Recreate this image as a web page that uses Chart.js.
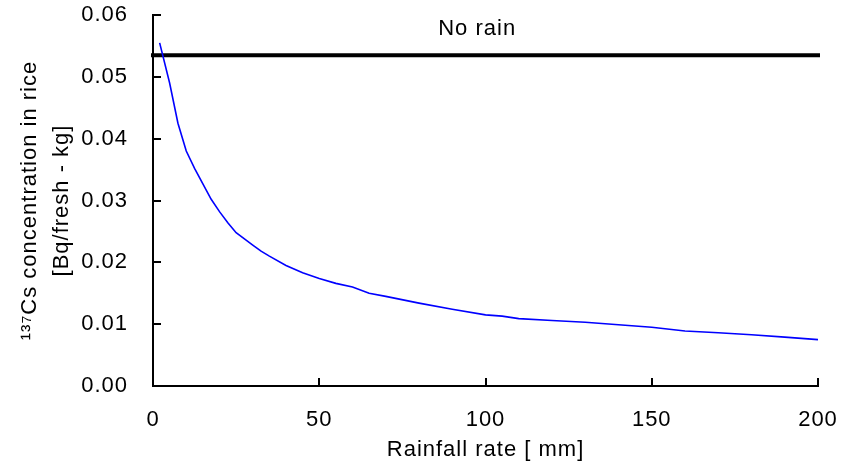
<!DOCTYPE html>
<html>
<head>
<meta charset="utf-8">
<script src="https://cdn.jsdelivr.net/npm/chart.js@4/dist/chart.umd.min.js"></script>
<style>
    html, body { margin: 0; padding: 0; background: #fff; }
    #wrap { width: 842px; height: 471px; }
</style>
</head>
<body>
<div id="wrap"><canvas id="rainChart"></canvas></div>
<script>
// rainfall rate [mm] and 137Cs concentration
const rainfall = [2, 5, 7.5, 10, 12.5, 15, 17.5, 20, 22.5, 25, 27.5, 30, 32.5, 35, 40, 45, 50, 55, 60, 65, 70, 80, 90, 100, 105, 110, 120, 130, 140, 150, 160, 170, 180, 190, 200];
const concentration = [0.0555, 0.0490, 0.0425, 0.0380, 0.0352, 0.0327, 0.0302, 0.0282, 0.0264, 0.0248, 0.0238, 0.0228, 0.0218, 0.0210, 0.0195, 0.0183, 0.0174, 0.0166, 0.0160, 0.0150, 0.0145, 0.0134, 0.0124, 0.0115, 0.0113, 0.0109, 0.0106, 0.0103, 0.0099, 0.0095, 0.0089, 0.0086, 0.0083, 0.0079, 0.0075];

// reference level without rain
const noRainX = [0, 200];
const noRainY = [0.0535, 0.0535];
const noRainLabel = "No rain";

const xTicks = [0, 50, 100, 150, 200];
const yTicks = [0, 0.01, 0.02, 0.03, 0.04, 0.05, 0.06];

const fontFamily = "'Liberation Sans', Arial, sans-serif";

// the original text is a bit wider than plain Arial
const spacing = {
    id: "spacing",
    beforeLayout(chart) { chart.ctx.letterSpacing = "1px"; },
    beforeDraw(chart) { chart.ctx.letterSpacing = "1px"; }
};

const noRainText = {
    id: "noRainText",
    afterDatasetsDraw(chart) {
        const { ctx, scales } = chart;
        ctx.save();
        ctx.font = "22px " + fontFamily;
        ctx.fillStyle = "#000";
        ctx.textAlign = "center";
        ctx.textBaseline = "middle";
        ctx.fillText(noRainLabel, scales.x.getPixelForValue(97.5), scales.y.getPixelForValue(0.0578));
        ctx.restore();
    }
};

const ctx = document.getElementById("rainChart").getContext("2d");

new Chart(ctx, {
    type: "line",
    data: {
        datasets: [
            {
                label: "Rainfall",
                data: rainfall.map((x, i) => ({ x: x, y: concentration[i] })),
                borderColor: "#0000ff",
                borderWidth: 1.6,
                pointRadius: 0,
                tension: 0,
                fill: false
            },
            {
                label: noRainLabel,
                data: noRainX.map((x, i) => ({ x: x, y: noRainY[i] })),
                borderColor: "#000",
                borderWidth: 4,
                borderCapStyle: "square",
                pointRadius: 0,
                clip: false,
                fill: false
            }
        ]
    },
    options: {
        responsive: true,
        maintainAspectRatio: false,
        animation: false,
        layout: {
            padding: { top: 15, right: 24, bottom: 0, left: 0 }
        },
        plugins: {
            legend: { display: false },
            tooltip: { enabled: false }
        },
        scales: {
            x: {
                type: "linear",
                min: 0,
                max: 200,
                afterBuildTicks: s => { s.ticks = xTicks.map(v => ({ value: v })); },
                afterFit: s => { s.height = 85; s.paddingLeft = 0; s.paddingRight = 0; },
                border: { color: "#000", width: 2 },
                grid: { drawOnChartArea: false, drawTicks: true, tickLength: -8, color: "#000", lineWidth: 2 },
                ticks: { color: "#000", padding: 29, font: { family: fontFamily, size: 22 } },
                title: {
                    display: true,
                    text: "Rainfall rate [ mm]",
                    color: "#000",
                    font: { family: fontFamily, size: 22 },
                    padding: { top: 0, bottom: 8 }
                }
            },
            y: {
                min: 0,
                max: 0.06,
                afterBuildTicks: s => { s.ticks = yTicks.map(v => ({ value: v })); },
                afterFit: s => { s.width = 153; s.paddingTop = 0; s.paddingBottom = 0; },
                border: { color: "#000", width: 2 },
                grid: { drawOnChartArea: false, drawTicks: true, tickLength: -8, color: "#000", lineWidth: 2 },
                ticks: {
                    color: "#000",
                    padding: 33,
                    font: { family: fontFamily, size: 22 },
                    callback: v => v.toFixed(2)
                },
                title: {
                    display: true,
                    text: ["\u00b9\u00b3\u2077Cs concentration in rice", "[Bq/fresh - kg]"],
                    color: "#000",
                    font: { family: fontFamily, size: 22, lineHeight: 1.45 },
                    padding: { top: 14, bottom: 0 }
                }
            }
        }
    },
    plugins: [spacing, noRainText]
});
</script>
</body>
</html>
